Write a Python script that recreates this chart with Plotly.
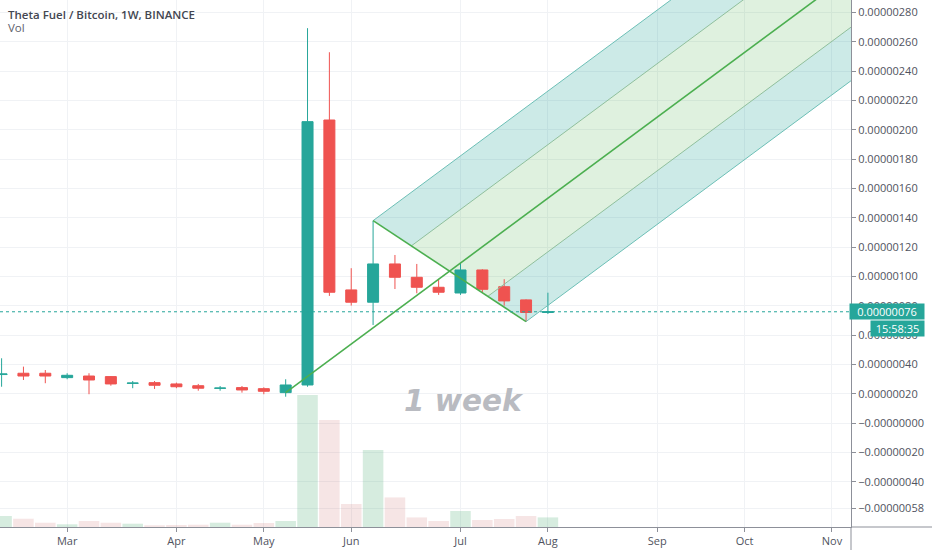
import plotly.graph_objects as go
import pandas as pd

# ---------------- data (prices in satoshi = 1e-8 BTC) ----------------
start = pd.Timestamp("2020-02-10")
n_bars = 26
dates = [start + pd.Timedelta(weeks=i) for i in range(n_bars)]

open_ = [33.2, 34.1, 34.1, 31.1, 32.2, 31.8, 27.2, 27.7, 26.8, 25.6, 23.8, 24.3, 23.6,
         20.9, 26.1, 206.7, 90.9, 82.5, 108.6, 99.5, 92.7, 88.8, 104.5, 93.1, 84.1, 75.5]
high = [44.3, 38.6, 36.3, 34.1, 34.1, 32.2, 28.8, 28.8, 27.7, 26.8, 25.4, 25.4, 24.5,
        30.0, 269.3, 252.9, 105.7, 138.1, 114.7, 108.6, 98.2, 109.3, 105.0, 98.2, 84.5, 89.0]
low = [24.9, 29.5, 27.3, 30.0, 19.8, 25.6, 23.9, 23.4, 23.9, 22.2, 22.2, 20.9, 19.8,
       18.1, 24.9, 86.8, 80.2, 67.0, 91.5, 88.6, 87.5, 87.5, 89.0, 80.2, 69.3, 74.5]
close = [33.6, 32.2, 32.2, 32.7, 29.5, 26.8, 27.4, 25.9, 24.9, 23.9, 24.0, 22.7, 21.8,
         26.1, 205.6, 89.3, 82.5, 108.6, 99.5, 92.7, 89.3, 104.5, 91.3, 83.4, 75.5, 76.0]
volume = [110, 83, 43, 27, 60, 43, 33, 17, 20, 23, 43, 23, 40,
          60, 1320, 1070, 230, 770, 296, 96, 60, 160, 70, 80, 110, 96]

last_price = 76.0
countdown = "15:58:35"

# pitchfork anchors (bar index, price)
pf_idx = [13, 17, 24]
pf_price = [20.9, 138.1, 69.3]

# axis ticks
month_idx = [3, 8, 12, 16, 21, 25, 30, 34, 38]
month_lbl = ["Mar", "Apr", "May", "Jun", "Jul", "Aug", "Sep", "Oct", "Nov"]
price_ticks = [-58, -40, -20, 0, 20, 40, 60, 80, 100, 120, 140, 160, 180, 200,
               220, 240, 260, 280]

# ---------------- styles ----------------
UP = "#26a69a"
DOWN = "#ef5350"
VOL_UP = "rgba(83,175,120,0.24)"
VOL_DOWN = "rgba(200,100,100,0.17)"
GRID = "#f0f2f5"
AXIS = "#8d9099"
TXT = "#50535e"
FONT = "Open Sans"


def wk(t):
    return start + pd.Timedelta(days=7 * t)


x_lo = wk(-0.073)
x_hi = wk(38.87)
y_lo, y_hi = -70.7, 288.5

fig = go.Figure()

# ---------------- pitchfork ----------------
i1, i2, i3 = pf_idx
p1, p2, p3 = pf_price
mi, mp = (i2 + i3) / 2, (p2 + p3) / 2
slope = (mp - p1) / (mi - i1)
T_far = 46


def base(f):
    return i2 + f * (i3 - i2), p2 + f * (p3 - p2)


def far(f):
    bi, bp = base(f)
    return T_far, bp + slope * (T_far - bi)


bands = [(0.0, 0.25, "rgba(0,150,136,0.20)"), (0.25, 0.5, "rgba(76,175,80,0.18)"),
         (0.5, 0.75, "rgba(76,175,80,0.18)"), (0.75, 1.0, "rgba(0,150,136,0.20)")]
for fa, fb, col in bands:
    pts = [base(fa), base(fb), far(fb), far(fa), base(fa)]
    fig.add_trace(go.Scatter(x=[wk(p[0]) for p in pts], y=[p[1] for p in pts],
                             mode="lines", line=dict(width=0), fill="toself",
                             fillcolor=col, hoverinfo="skip", showlegend=False,
                             xaxis="x", yaxis="y"))

# ---------------- volume ----------------
vol_colors = [VOL_UP if c >= o else VOL_DOWN for o, c in zip(open_, close)]
fig.add_trace(go.Bar(x=dates, y=volume, marker=dict(color=vol_colors, line=dict(width=0)),
                     width=7 * 86400000 * 0.94, hoverinfo="skip", showlegend=False,
                     xaxis="x", yaxis="y2"))

# ---------------- candles ----------------
fig.add_trace(go.Candlestick(x=dates, open=open_, high=high, low=low, close=close,
                             increasing=dict(line=dict(color=UP, width=1), fillcolor=UP),
                             decreasing=dict(line=dict(color=DOWN, width=1), fillcolor=DOWN),
                             whiskerwidth=0, hoverinfo="skip", showlegend=False,
                             xaxis="x", yaxis="y3"))

# pitchfork lines
line_specs = []
for f, col, w in [(0.0, "#6cbfb6", 1), (0.25, "#8fbf9c", 1), (0.75, "#8fbf9c", 1),
                  (1.0, "#6cbfb6", 1)]:
    b, e = base(f), far(f)
    line_specs.append(([b[0], e[0]], [b[1], e[1]], col, w))
line_specs.append(([i2, i3], [p2, p3], "#4caf50", 1.6))
line_specs.append(([i1, T_far], [p1, p1 + slope * (T_far - i1)], "#4caf50", 1.6))
for xs, ys, col, w in line_specs:
    fig.add_trace(go.Scatter(x=[wk(v) for v in xs], y=ys, mode="lines",
                             line=dict(color=col, width=w), hoverinfo="skip",
                             showlegend=False, xaxis="x", yaxis="y3"))


def fmt(v):
    s = f"{abs(v) / 1e8:.8f}"
    return ("\u2212" + s) if v <= 0 else s


fig.update_layout(
    width=932, height=550,
    margin=dict(l=0, r=81, t=0, b=23),
    paper_bgcolor="white", plot_bgcolor="white",
    boxgap=0.28,
    font=dict(family=FONT, size=11, color=TXT),
    xaxis=dict(type="date", range=[x_lo, x_hi], rangeslider=dict(visible=False),
               tickvals=[wk(i) for i in month_idx], ticktext=month_lbl,
               showgrid=True, gridcolor=GRID, gridwidth=1,
               showline=True, linecolor=AXIS, linewidth=1,
               ticks="outside", ticklen=4, tickcolor=AXIS,
               tickfont=dict(family=FONT, size=11, color=TXT), zeroline=False),
    yaxis=dict(range=[y_lo, y_hi], side="right", tickvals=price_ticks,
               ticktext=[fmt(v) for v in price_ticks],
               showgrid=True, gridcolor=GRID, gridwidth=1, zeroline=False,
               showline=True, linecolor=AXIS, linewidth=1,
               ticks="outside", ticklen=4, tickcolor=AXIS,
               tickfont=dict(family=FONT, size=11, color=TXT)),
    yaxis2=dict(range=[0, 5270], overlaying="y", visible=False),
    yaxis3=dict(range=[y_lo, y_hi], overlaying="y", visible=False),
)

# current price dotted line
fig.add_shape(type="line", xref="paper", x0=0, x1=1, yref="y", y0=last_price, y1=last_price,
              line=dict(color=UP, width=1, dash="dot"))
# axis line extensions
fig.add_shape(type="line", xref="paper", yref="paper", x0=1, x1=1, y0=0, y1=-23 / 527,
              line=dict(color=AXIS, width=1))
fig.add_shape(type="line", xref="paper", yref="paper", x0=1, x1=1 + 81 / 851, y0=0, y1=0,
              line=dict(color=AXIS, width=1))

# price labels on axis
fig.add_annotation(xref="paper", x=1, xanchor="left", xshift=-2, yref="y", y=last_price,
                   yanchor="middle", text=fmt(last_price), showarrow=False,
                   font=dict(family=FONT, size=11, color="white"), bgcolor=UP,
                   width=72, height=13, borderpad=1, align="center")
fig.add_annotation(xref="paper", x=1, xanchor="left", xshift=19, yref="y", y=last_price,
                   yanchor="middle", yshift=-17, text=countdown, showarrow=False,
                   font=dict(family=FONT, size=11, color="white"), bgcolor=UP,
                   width=51, height=13, borderpad=1, align="center")

# legend texts
fig.add_annotation(xref="paper", x=0, xanchor="left", xshift=6, yref="paper", y=1,
                   yanchor="middle", yshift=-14, text="Theta Fuel / Bitcoin, 1W, BINANCE",
                   showarrow=False, font=dict(family=FONT, size=11.5, color="#434651", weight=600))
fig.add_annotation(xref="paper", x=0, xanchor="left", xshift=6, yref="paper", y=1,
                   yanchor="middle", yshift=-27, text="Vol", showarrow=False,
                   font=dict(family=FONT, size=11.5, color="#5d606b"))

# watermark
fig.add_annotation(xref="paper", x=464 / 851, xanchor="center", yref="paper",
                   y=1 - 401 / 527, yanchor="middle", text="<b><i>1 week</i></b>",
                   showarrow=False,
                   font=dict(family="DejaVu Sans", size=29.5, color="#b9bbc1"))

fig.write_html("out.html", config={"displayModeBar": False},
               post_script="document.body.style.margin='0';document.body.style.overflow='hidden';")
